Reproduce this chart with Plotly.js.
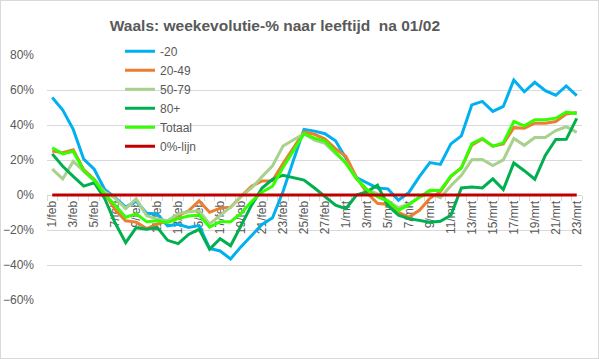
<!DOCTYPE html>
<html><head><meta charset="utf-8">
<script src="https://cdn.plot.ly/plotly-3.0.1.min.js"></script>
<style>
html,body{margin:0;padding:0;background:#fff}
#c{width:599px;height:359px;position:relative}
#b{position:absolute;left:0;top:0;width:599px;height:359px;box-sizing:border-box;border:1px solid #D9D9D9;pointer-events:none}
</style>
</head><body><div id="c"></div><div id="b"></div>
<script>
const categories = ["1/feb","2/feb","3/feb","4/feb","5/feb","6/feb","7/feb","8/feb","9/feb","10/feb",
"11/feb","12/feb","13/feb","14/feb","15/feb","16/feb","17/feb","18/feb","19/feb","20/feb",
"21/feb","22/feb","23/feb","24/feb","25/feb","26/feb","27/feb","28/feb",
"1/mrt","2/mrt","3/mrt","4/mrt","5/mrt","6/mrt","7/mrt","8/mrt","9/mrt","10/mrt",
"11/mrt","12/mrt","13/mrt","14/mrt","15/mrt","16/mrt","17/mrt","18/mrt","19/mrt","20/mrt",
"21/mrt","22/mrt","23/mrt"];

const s_min20 = [55.7,48.5,37.5,20.5,14.7,3.2,-1.5,-6.9,-3.5,-10.4,-10.8,-17.6,-16.7,-18.5,-17.5,-30.5,-32,-36.5,-29.5,-23,
-16.8,-13,2,20,37.5,36.5,35,31,21,10,7,4,3.5,-3,1.5,10.5,18.5,17.5,29.2,33.8,
51.5,53.5,47.8,50.6,65.7,59,64.4,59.6,57,62.3,56.8];

const s_20_49 = [25.2,24.2,25.8,14.5,9,1.2,-8.5,-14.7,-15.5,-19.2,-16.7,-14.7,-11.8,-9,-3.4,-9.9,-7.5,-7,-0.8,5,
8,8.2,18,27,36,34.7,32,26.5,22,10,1.2,-4.7,-5.4,-10,-12.6,-8.7,-1.9,1.9,10.5,15.7,
28.5,32,27.9,29.2,38.5,38.2,41,41,42,46.3,47.2];

const s_50_79 = [14.8,9.2,19.2,13.8,8,1.9,-1.9,-7.8,-2.2,-11.8,-13.7,-14.7,-10.8,-9.6,-9,-16.5,-11.5,-7,-0.8,4,
10.5,16.7,28,31.7,35,31.3,29.5,23.6,18.5,9.4,3.1,0.7,-3.5,-7.3,-5.1,-1.2,0.9,-1.5,5.3,11.3,
20.1,20.3,16.8,20.1,32.3,28.4,32.9,32.9,36.8,39,35.8];

const s_80plus = [23.5,16.4,10.6,5.1,7,-2,-16,-27.2,-18.7,-19.5,-18.5,-25.9,-27.8,-22.5,-19.5,-31,-25,-29,-17.5,-5.8,
4,8.9,11.3,10,8.5,4,-1,-5.8,-7.8,0,1.9,5.6,-6,-11.5,-13.5,-14.6,-15.5,-15,-11.6,4,
4.5,4,9.2,3.1,18.3,13.9,9,22.6,31.7,31.8,43.8];

const s_totaal = [27,23.5,25,13.8,8.5,0.4,-5.9,-12.7,-10.8,-15.3,-14.7,-15.7,-13.5,-12,-11.5,-18.3,-15.3,-15.3,-10.5,-3.7,
1.6,5,15.7,25.4,35,32.5,30.8,24.6,18,9.3,3.1,-1,-3.5,-8.8,-5.6,-1.3,2.7,2.6,10.8,15.4,
29.4,32.3,27.9,29.8,42,39.5,43,43,43.9,47.4,46.4];

const s_nullijn = [0,0,0,0,0,0,0,0,0,0,0,0,0,0,0,0,0,0,0,0,0,0,0,0,0,0,0,0,0,0,0,0,0,0,0,0,0,0,0,0,0,0,0,0,0,0,0,0,0,0,0];

const seriesNames = ["-20","20-49","50-79","80+","Totaal","0%-lijn"];
const seriesData = [s_min20, s_20_49, s_50_79, s_80plus, s_totaal, s_nullijn];
const colors = ["#00B0F0","#ED7D31","#A9D18E","#00B050","#33FF00","#C00000"];

const traces = seriesNames.map((n,k)=>({
  type:'scatter', mode:'lines', name:n, x:categories, y:seriesData[k],
  line:{color:colors[k], width:3}, hoverinfo:'skip'
}));

const tickText = categories.map((c,i)=> i%2===0 ? c : '');
const yMin=-60, yMax=80;

const layout = {
  width:599, height:359,
  margin:{l:47, r:17, t:55, b:59},
  paper_bgcolor:'#fff', plot_bgcolor:'#fff',
  font:{family:'Liberation Sans, Arial, sans-serif', size:12, color:'#595959'},
  title:{text:'Waals: weekevolutie-% naar leeftijd\u00a0 na 01/02', xref:'container', x:0.459, xanchor:'center',
         yref:'container', y:0.93, yanchor:'middle',
         font:{family:'Liberation Sans, Arial, sans-serif', size:15.5, color:'#595959', weight:'bold'}},
  xaxis:{type:'category', range:[-0.5, categories.length-0.5], anchor:'free',
         position:(0-yMin)/(yMax-yMin), tickvals:categories, ticktext:tickText, tickangle:-90,
         tickson:'boundaries', ticks:'outside', ticklen:5, tickcolor:'#D9D9D9', tickwidth:1,
         showline:true, linecolor:'#D9D9D9', showgrid:false, zeroline:false, layer:'below traces',
         tickfont:{size:12, color:'#595959'}},
  yaxis:{range:[yMin,yMax], dtick:20, ticksuffix:'%', showgrid:true, gridcolor:'#D9D9D9', gridwidth:1,
         zeroline:false, showline:false, ticks:'', ticklabelstandoff:12,
         tickfont:{size:12, color:'#595959'}},
  showlegend:true,
  legend:{x:(120-47)/535, xanchor:'left', y:1.075, yanchor:'top', bgcolor:'rgba(255,255,255,0)',
          font:{size:12, color:'#595959'}, traceorder:'normal'}
};

Plotly.newPlot('c', traces, layout, {staticPlot:true, displayModeBar:false});
</script></body></html>
